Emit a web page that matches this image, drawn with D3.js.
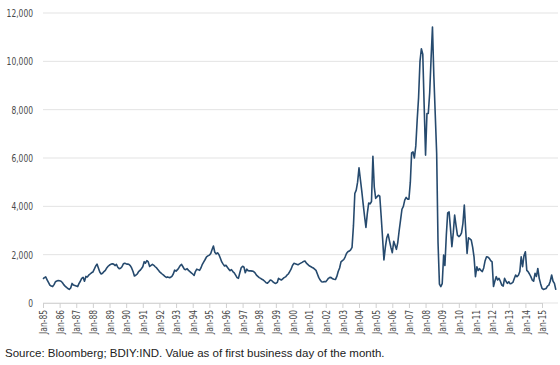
<!DOCTYPE html>
<html>
<head>
<meta charset="utf-8">
<script src="https://cdn.jsdelivr.net/npm/d3@7"></script>
<style>
  body { margin: 0; background: #fff; }
  .axis text { font-family: "Liberation Sans Narrow", "DejaVu Sans Condensed", sans-serif; fill: #4a4a4a; }
</style>
</head>
<body>
<div id="chart"></div>
<script>
// Baltic Dry Index, monthly, Jan-85 .. Nov-15
var startYear = 1985;
var yTicks = [0, 2000, 4000, 6000, 8000, 10000, 12000];
var sourceNote = "Source: Bloomberg; BDIY:IND. Value as of first business day of the month.";

var bdi = [
  1000, 1050, 1080, 960, 850, 740, 700, 680, 760, 880, 910, 930,      // 1985
  920, 900, 850, 760, 700, 650, 600, 565, 620, 810, 740, 720,         // 1986
  700, 680, 800, 900, 1020, 1060, 900, 1100, 1080, 1150, 1200, 1250,  // 1987
  1280, 1400, 1520, 1610, 1450, 1280, 1200, 1230, 1300, 1350, 1450, 1520, // 1988
  1570, 1600, 1620, 1610, 1550, 1600, 1480, 1420, 1440, 1500, 1620, 1640, // 1989
  1620, 1610, 1600, 1550, 1450, 1300, 1120, 1150, 1200, 1300, 1350, 1420, // 1990
  1500, 1710, 1650, 1750, 1700, 1510, 1560, 1600, 1560, 1500, 1450, 1380, // 1991
  1300, 1250, 1200, 1150, 1100, 1060, 1080, 1050, 1060, 1100, 1200, 1360, // 1992
  1320, 1380, 1450, 1550, 1600, 1500, 1400, 1380, 1420, 1350, 1300, 1250, // 1993
  1200, 1140, 1300, 1400, 1380, 1350, 1450, 1600, 1700, 1800, 1910, 1950, // 1994
  1980, 2050, 2200, 2360, 2100, 2030, 2080, 2000, 1850, 1700, 1610, 1530, // 1995
  1560, 1480, 1400, 1340, 1380, 1300, 1250, 1150, 1050, 1020, 1250, 1460, // 1996
  1520, 1480, 1250, 1400, 1340, 1330, 1330, 1320, 1300, 1250, 1150, 1100, // 1997
  1050, 1020, 980, 950, 900, 840, 820, 880, 950, 930, 870, 830,       // 1998
  810, 850, 1020, 980, 950, 1000, 1050, 1080, 1150, 1200, 1300, 1400, // 1999
  1550, 1640, 1620, 1600, 1580, 1620, 1650, 1680, 1720, 1740, 1650, 1600, // 2000
  1540, 1510, 1480, 1450, 1400, 1350, 1200, 1050, 950, 880, 870, 890, // 2001
  880, 950, 1020, 1060, 1050, 1000, 980, 970, 1100, 1300, 1450, 1700, // 2002
  1750, 1800, 1900, 2050, 2120, 2150, 2200, 2300, 3200, 4530, 4670, 5000, // 2003
  5590, 5100, 4640, 4100, 3600, 3130, 3700, 4140, 4100, 4200, 6070, 4800, // 2004
  4330, 4400, 4460, 4420, 3600, 2700, 1780, 2300, 2700, 2850, 2560, 2300, // 2005
  2080, 2550, 2400, 2220, 2500, 3000, 3430, 3880, 4000, 4260, 4370, 4300, // 2006
  4300, 5000, 6210, 6250, 6000, 6500, 7560, 8500, 10000, 10520, 10300, 8200, // 2007
  6120, 7840, 7840, 8700, 10100, 11420, 9400, 7800, 6200, 2500, 780, 680, // 2008
  800, 1980, 1550, 2800, 3730, 3770, 3100, 2330, 2900, 3640, 3200, 2810, // 2009
  2750, 2800, 2900, 3300, 4050, 3000, 2050, 2700, 2650, 2600, 2300, 1900, // 2010
  1090, 1500, 1350, 1420, 1350, 1300, 1450, 1750, 1910, 1900, 1850, 1750, // 2011
  1700, 680, 900, 1090, 950, 1020, 900, 740, 700, 1020, 900, 810,     // 2012
  880, 800, 810, 850, 1000, 1160, 1090, 1150, 1300, 1910, 1500, 1950, // 2013
  2120, 1350, 1300, 1200, 1090, 950, 900, 1230, 1100, 1430, 1020, 800, // 2014
  607, 560, 580, 600, 700, 740, 900, 1160, 900, 810, 540              // 2015
];

var data = bdi.map(function(v, i) {
  return { date: new Date(startYear, i, 1), value: v };
});

var width = 560;
var height = 365;
var squeeze = 0.8; // fonte estreita dos rotulos

var svg = d3.select("#chart")
  .append("svg")
  .attr("width", width)
  .attr("height", height);

// escalas
var x = d3.scaleTime()
  .domain([new Date(1985, 0, 1), new Date(2015, 0, 1)])
  .range([43, 542]);

var y = d3.scaleLinear()
  .domain([0, 12000])
  .range([303, 13]);

// linhas de grade
svg.append("g")
  .selectAll("line")
  .data(yTicks)
  .enter()
  .append("line")
  .attr("x1", 43)
  .attr("x2", 558)
  .attr("y1", function(d) { return y(d); })
  .attr("y2", function(d) { return y(d); })
  .attr("stroke", "#e3e3e3")
  .attr("stroke-width", 1);

// eixo y
var yAxis = svg.append("g")
  .attr("class", "axis")
  .attr("transform", "translate(43,0)")
  .call(d3.axisLeft(y).tickValues(yTicks).tickSize(0).tickPadding(10).tickFormat(d3.format(",")));
yAxis.select(".domain").remove();
yAxis.selectAll("text")
  .style("font-size", "10.5px")
  .attr("x", 0)
  .attr("transform", "translate(-10,0) scale(" + squeeze + ",1)");

// eixo x
var xAxis = svg.append("g")
  .attr("class", "axis")
  .attr("transform", "translate(0,303)")
  .call(d3.axisBottom(x).ticks(d3.timeYear.every(1)).tickSize(5).tickFormat(d3.timeFormat("Jan-%y")));
xAxis.select(".domain").attr("stroke", "#d6d6d6");
xAxis.selectAll(".tick line").attr("stroke", "#d0d0d0");
xAxis.selectAll("text")
  .style("font-size", "10.5px")
  .attr("text-anchor", "end")
  .attr("transform", "rotate(-90) scale(" + squeeze + ",1)")
  .attr("x", -7 / squeeze)
  .attr("y", 0)
  .attr("dy", "0.35em");

// linha do indice
var line = d3.line()
  .x(function(d) { return x(d.date); })
  .y(function(d) { return y(d.value); });

svg.append("path")
  .datum(data)
  .attr("fill", "none")
  .attr("stroke", "#264a6e")
  .attr("stroke-width", 1.6)
  .attr("stroke-linejoin", "round")
  .attr("d", line);

// fonte
svg.append("text")
  .attr("x", 5)
  .attr("y", 357)
  .style("font-family", "'Liberation Sans', Arial, sans-serif")
  .style("font-size", "11.5px")
  .attr("fill", "#222")
  .text(sourceNote);
</script>
</body>
</html>
